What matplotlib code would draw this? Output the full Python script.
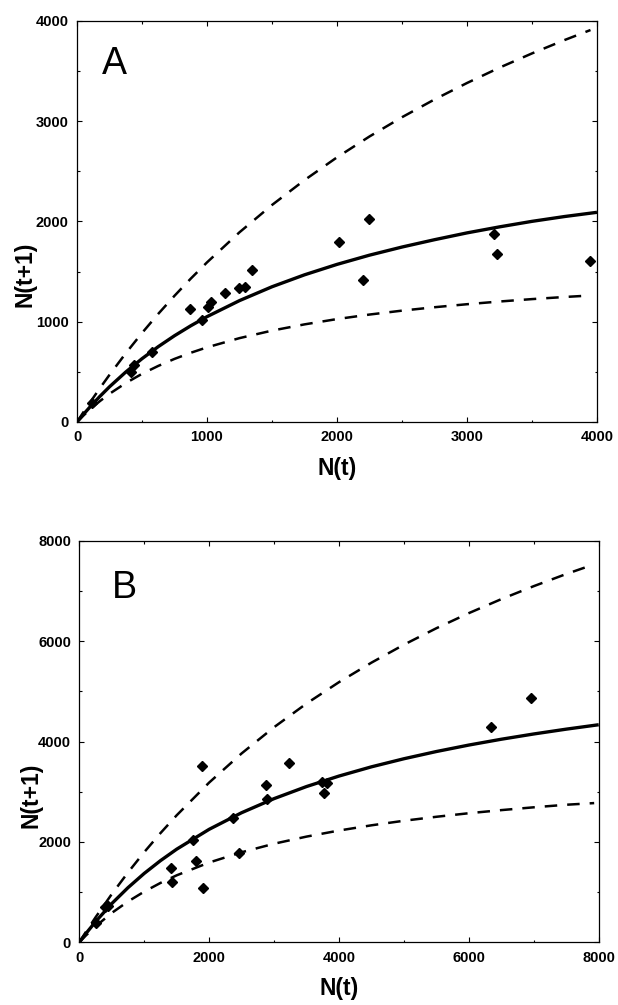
import matplotlib
matplotlib.use('Agg')
import matplotlib.pyplot as plt
from matplotlib.ticker import MultipleLocator

plt.rcParams['font.family'] = ['Liberation Sans', 'DejaVu Sans']

# panel A - observed points
a_nt = [115, 415, 440, 575, 870, 965, 1005, 1030, 1140, 1250, 1295, 1345, 2015, 2200, 2250, 3205, 3230, 3950]
a_nt1 = [190, 500, 565, 700, 1130, 1020, 1145, 1200, 1290, 1335, 1345, 1515, 1790, 1420, 2020, 1870, 1670, 1600]

# panel A - fitted curve and the two dashed bounds
a_fit_x = [0, 50, 100, 175, 250, 375, 500, 625, 750, 875, 1000, 1250, 1500, 1750,
           2000, 2250, 2500, 2750, 3000, 3250, 3500, 3750, 4000]
a_fit_y = [0, 77, 150, 254, 351, 498, 631, 751, 860, 959, 1050, 1210, 1348, 1467,
           1571, 1663, 1744, 1817, 1885, 1945, 2000, 2048, 2090]
a_band_x = [0, 50, 100, 175, 250, 375, 500, 625, 750, 875, 1000, 1250, 1500, 1750,
            2000, 2250, 2500, 2750, 3000, 3250, 3500, 3750, 3950]
a_hi_y = [0, 99, 195, 335, 470, 685, 887, 1078, 1258, 1429, 1591, 1891, 2163, 2411,
          2638, 2846, 3038, 3215, 3379, 3532, 3674, 3807, 3907]
a_lo_y = [0, 65, 125, 207, 281, 388, 480, 559, 629, 690, 744, 836, 911, 973,
          1026, 1071, 1110, 1144, 1174, 1201, 1225, 1246, 1261]

# panel B - observed points
b_nt = [252, 400, 444, 1413, 1424, 1758, 1790, 1889, 1906, 2371, 2464, 2880, 2886, 3236, 3740, 3822, 3773, 6346, 6954]
b_nt1 = [379, 712, 731, 1476, 1210, 2041, 1616, 3511, 1091, 2487, 1782, 3126, 2859, 3578, 3192, 3172, 2973, 4289, 4874]

# panel B - fitted curve and dashed bounds
b_fit_x = [0, 100, 250, 500, 750, 1000, 1250, 1500, 2000, 2500, 3000, 3500, 4000,
           4500, 5000, 5500, 6000, 6500, 7000, 7500, 8000]
b_fit_y = [0, 171, 410, 771, 1089, 1373, 1627, 1856, 2252, 2583, 2864, 3105, 3314,
           3498, 3659, 3803, 3932, 4048, 4153, 4249, 4337]
b_band_x = [0, 100, 250, 500, 750, 1000, 1250, 1500, 2000, 2500, 3000, 3500, 4000,
            4500, 5000, 5500, 6000, 6500, 7000, 7500, 7930]
b_hi_y = [0, 203, 497, 960, 1392, 1797, 2176, 2532, 3184, 3765, 4288, 4760, 5186,
          5575, 5933, 6261, 6562, 6841, 7100, 7342, 7535]
b_lo_y = [0, 134, 317, 585, 813, 1010, 1183, 1335, 1590, 1795, 1965, 2107, 2228,
          2332, 2423, 2502, 2573, 2635, 2691, 2742, 2775]


def draw_panel(ax, nt, nt1, fx, fy, bx, hi, lo, lim, step, letter, letter_pos, ylab_pos):
    ax.plot(bx, hi, color='black', lw=1.8, ls=(0, (5, 4)))
    ax.plot(bx, lo, color='black', lw=1.8, ls=(0, (5, 4)))
    ax.plot(fx, fy, color='black', lw=2.4, solid_capstyle='butt')
    ax.plot(nt, nt1, ls='none', marker='D', ms=4.6, color='black')

    ax.set_xlim(0, lim)
    ax.set_ylim(0, lim)
    ax.xaxis.set_major_locator(MultipleLocator(step))
    ax.yaxis.set_major_locator(MultipleLocator(step))
    ax.xaxis.set_minor_locator(MultipleLocator(step / 2))
    ax.yaxis.set_minor_locator(MultipleLocator(step / 2))
    ax.tick_params(which='both', direction='in', top=True, right=True,
                   width=0.8, labelsize=10.5, pad=6)
    ax.tick_params(which='major', length=3.5)
    ax.tick_params(which='minor', length=1.8)
    for lab in ax.get_xticklabels() + ax.get_yticklabels():
        lab.set_fontweight('bold')
    for sp in ax.spines.values():
        sp.set_linewidth(0.9)

    ax.set_xlabel('N(t)', fontsize=16.5, fontweight='bold')
    ax.set_ylabel('N(t+1)', fontsize=16.5, fontweight='bold')
    ax.xaxis.set_label_coords(0.5, -0.115)
    ax.xaxis.label.set_va('center')
    ax.yaxis.set_label_coords(ylab_pos[0], ylab_pos[1])
    ax.yaxis.label.set_va('center')

    ax.text(letter_pos[0], letter_pos[1], letter, transform=ax.transAxes,
            fontsize=27, ha='left', va='center')


fig = plt.figure(figsize=(6.18, 10.05), dpi=100)
ax1 = fig.add_axes([0.1246, 0.5801, 0.8414, 0.3993])
ax2 = fig.add_axes([0.1283, 0.0624, 0.8405, 0.3993])

draw_panel(ax1, a_nt, a_nt1, a_fit_x, a_fit_y, a_band_x, a_hi_y, a_lo_y,
           4000, 1000, 'A', (0.047, 0.893), (-0.100, 0.369))
draw_panel(ax2, b_nt, b_nt1, b_fit_x, b_fit_y, b_band_x, b_hi_y, b_lo_y,
           8000, 2000, 'B', (0.062, 0.882), (-0.093, 0.367))

fig.savefig('out.png', dpi=100, facecolor='white')
